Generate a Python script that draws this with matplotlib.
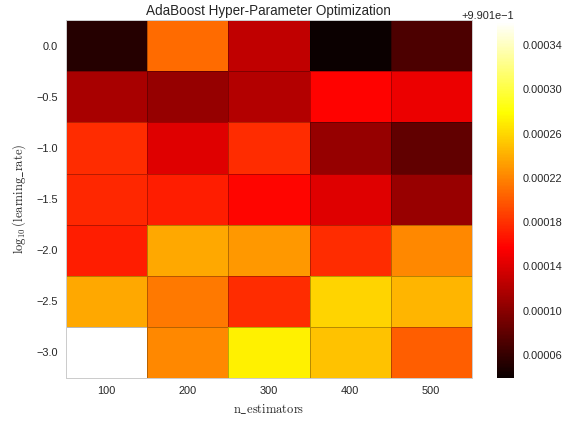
import numpy as np
import matplotlib
matplotlib.use('Agg')
import matplotlib.pyplot as plt
from matplotlib.ticker import ScalarFormatter

plt.rcParams['font.family'] = ['Liberation Sans', 'DejaVu Sans']
plt.rcParams['mathtext.fontset'] = 'cm'

n_estimators = [100, 200, 300, 400, 500]
log_learning_rate = [0.0, -0.5, -1.0, -1.5, -2.0, -2.5, -3.0]

# mean accuracy, one row per learning rate, one column per n_estimators
acc_lr_0_0 = [0.990152, 0.990308, 0.990227, 0.990139, 0.990171]
acc_lr_0_5 = [0.990215, 0.990206, 0.990220, 0.990258, 0.990248]
acc_lr_1_0 = [0.990278, 0.990241, 0.990278, 0.990206, 0.990181]
acc_lr_1_5 = [0.990276, 0.990270, 0.990259, 0.990241, 0.990208]
acc_lr_2_0 = [0.990271, 0.990337, 0.990329, 0.990278, 0.990322]
acc_lr_2_5 = [0.990337, 0.990314, 0.990278, 0.990359, 0.990343]
acc_lr_3_0 = [0.990461, 0.990322, 0.990372, 0.990350, 0.990302]

cbar_offset = 0.9901
cbar_ticks = [0.00006, 0.00010, 0.00014, 0.00018, 0.00022, 0.00026, 0.00030, 0.00034]

scores = np.array([acc_lr_0_0, acc_lr_0_5, acc_lr_1_0, acc_lr_1_5,
                   acc_lr_2_0, acc_lr_2_5, acc_lr_3_0])

x = np.array(n_estimators, dtype=float)
y = np.array(log_learning_rate)
x_edges = np.append(x - 50, x[-1] + 50)
y_edges = np.append(y + 0.25, y[-1] - 0.25)

fig = plt.figure(figsize=(574 / 72, 421 / 72), dpi=72)
ax = fig.add_axes([0.115, 0.102, 0.707, 0.850])
cax = fig.add_axes([0.866, 0.102, 0.030, 0.846])

mesh = ax.pcolormesh(x_edges, y_edges, scores, cmap='hot',
                     edgecolors=(0, 0, 0, 0.28), linewidth=0.8)
ax.set_xlim(x_edges[0], x_edges[-1])
ax.set_ylim(y_edges[-1], y_edges[0])
ax.set_xticks(n_estimators)
ax.set_yticks(log_learning_rate)
ax.set_xticklabels([str(v) for v in n_estimators])
ax.set_yticklabels([f'{v:.1f}'.replace('-', '\u2212') for v in log_learning_rate])
ax.tick_params(length=0, labelsize=11, colors='.15', pad=8)
for s in ax.spines.values():
    s.set_color('.8')
    s.set_linewidth(1)

ax.set_title('AdaBoost Hyper-Parameter Optimization', fontsize=13.5, color='.15', pad=5)
ax.set_xlabel(r'$\mathrm{n\_estimators}$', fontsize=12.5, color='.15', labelpad=6)
ax.set_ylabel(r'$\log_{10}(\mathrm{learning\_rate})$', fontsize=12.5, color='.15', labelpad=8)

cbar = fig.colorbar(mesh, cax=cax)
cbar.outline.set_visible(False)
fmt = ScalarFormatter(useOffset=cbar_offset)
cbar.formatter = fmt
cbar.set_ticks([cbar_offset + t for t in cbar_ticks])
cbar.update_ticks()
cax.tick_params(length=0, labelsize=11, colors='.15', pad=8)
cax.yaxis.get_offset_text().set_fontsize(11)
cax.yaxis.get_offset_text().set_color('.15')

fig.savefig('out.png', dpi=72)
